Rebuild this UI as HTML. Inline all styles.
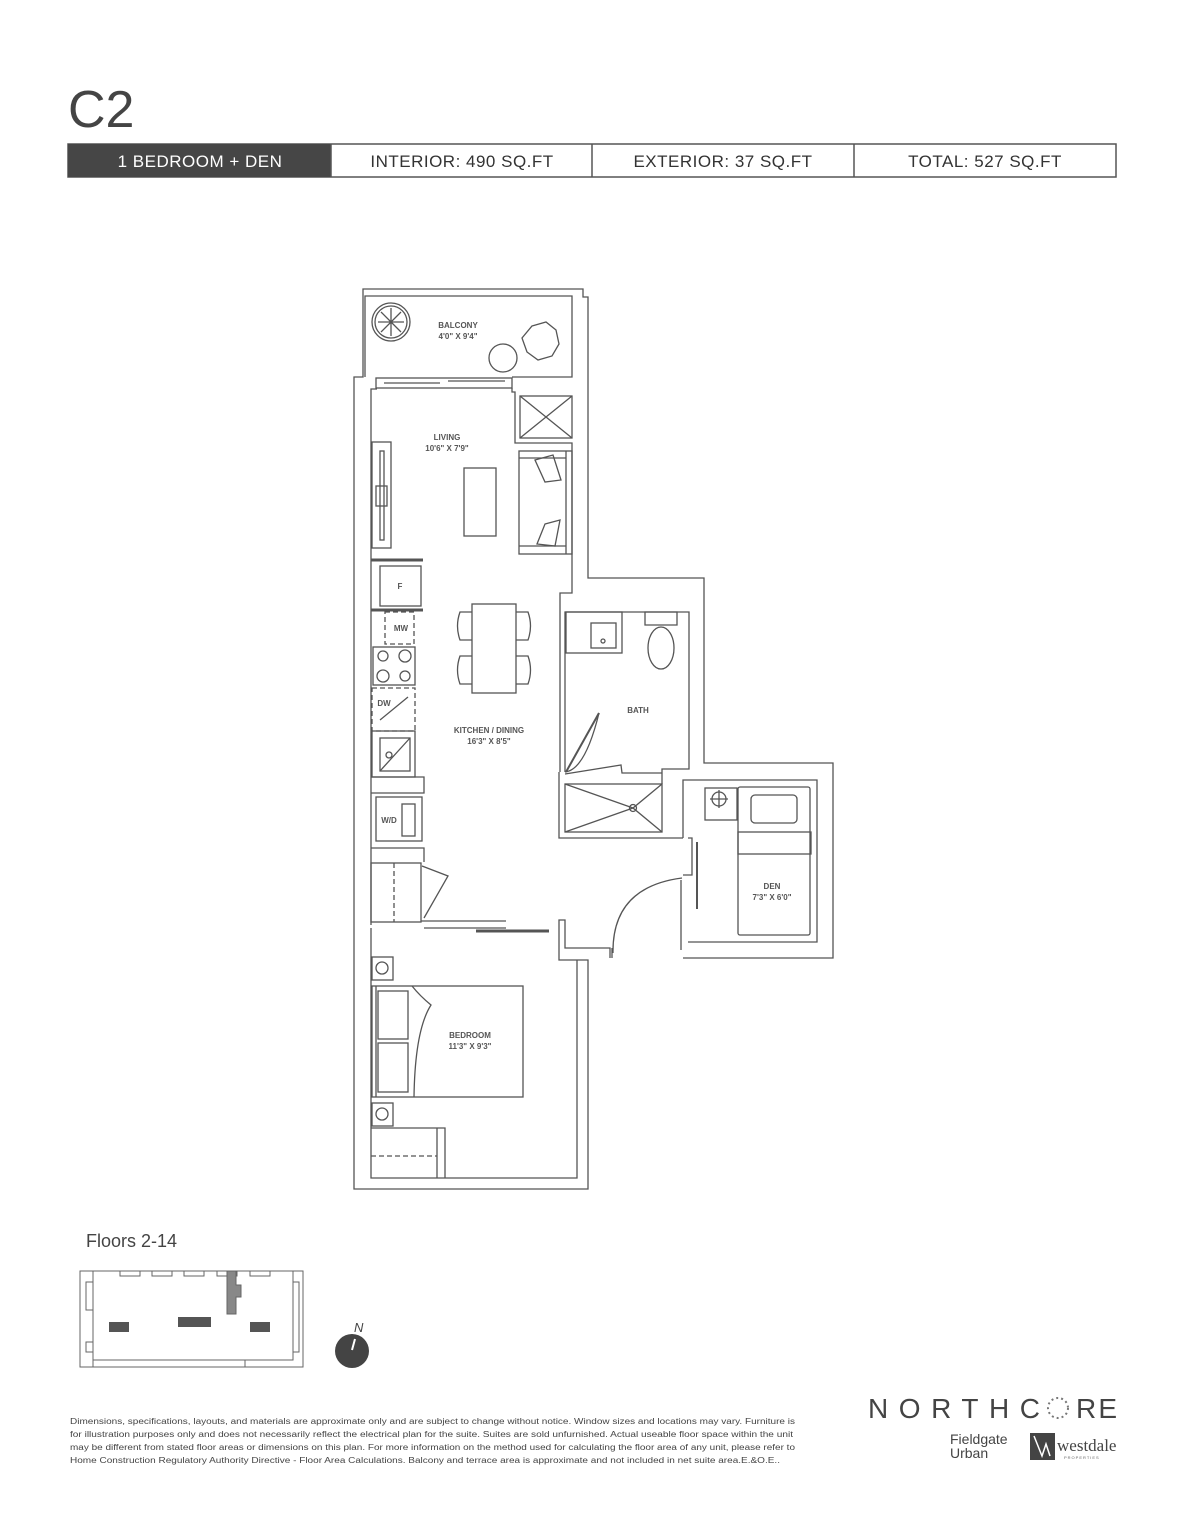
<!DOCTYPE html>
<html><head><meta charset="utf-8"><style>
body{margin:0;background:#fff;}
svg{display:block}
.t{font-family:"Liberation Sans",sans-serif;fill:#444}
.l{font-family:"Liberation Sans",sans-serif;font-size:8px;font-weight:bold;fill:#555;text-anchor:middle}
</style></head><body>
<svg width="1187" height="1536" viewBox="0 0 1187 1536" xmlns="http://www.w3.org/2000/svg">
<text x="68" y="127" class="t" font-size="52" fill="#333" style="font-weight:300">C2</text>
<rect x="68" y="144" width="1048" height="33" fill="#fff" stroke="#555" stroke-width="1.5"/>
<rect x="68" y="144" width="263" height="33" fill="#464646"/>
<line x1="331" y1="144" x2="331" y2="177" stroke="#555" stroke-width="1.5"/>
<line x1="592" y1="144" x2="592" y2="177" stroke="#555" stroke-width="1.5"/>
<line x1="854" y1="144" x2="854" y2="177" stroke="#555" stroke-width="1.5"/>
<g font-family="Liberation Sans, sans-serif" font-size="17" text-anchor="middle" letter-spacing="0.5">
<text x="200" y="167" fill="#fff">1 BEDROOM + DEN</text>
<text x="462" y="167" fill="#333">INTERIOR: 490 SQ.FT</text>
<text x="723" y="167" fill="#333">EXTERIOR: 37 SQ.FT</text>
<text x="985" y="167" fill="#333">TOTAL: 527 SQ.FT</text>
</g>

<g fill="none" stroke="#555" stroke-width="1.3">
<polyline points="363,297 363,377 354,377 354,1189 588,1189 588,960 559,960 559,920 565,920 565,948 610,948 610,958"/>
<polyline points="683,958 833,958 833,763 704,763 704,578 588,578 588,297 583,297 583,289 363,289 363,297"/>
<polyline points="365,377 365,296 572,296 572,377 512,377"/>
<rect x="376" y="378" width="136" height="10"/>
<line x1="384" y1="383" x2="440" y2="383"/><line x1="448" y1="381" x2="505" y2="381"/>
<polyline points="371,925 371,389 377,389"/>
<polyline points="512,388 512,392 515,392 515,443 572,443 572,593 560,593 560,772"/>
<rect x="520" y="396" width="52" height="42"/>
<line x1="520" y1="396" x2="572" y2="438"/><line x1="572" y1="396" x2="520" y2="438"/>
<rect x="372" y="442" width="19" height="106"/>
<rect x="380" y="451" width="4" height="89"/><rect x="376" y="486" width="11" height="20"/>
<rect x="464" y="468" width="32" height="68"/>
<rect x="519" y="451" width="53" height="103"/>
<line x1="519" y1="458" x2="566" y2="458"/><line x1="519" y1="546" x2="566" y2="546"/><line x1="566" y1="451" x2="566" y2="554"/>
<path d="M535,460 L553,455 L561,480 L545,482 Z"/><path d="M545,524 L560,520 L555,546 L537,544 Z"/>
<line x1="371" y1="560" x2="423" y2="560" stroke-width="3"/><line x1="371" y1="610" x2="423" y2="610" stroke-width="3"/>
<rect x="380" y="566" width="41" height="40"/>
<rect x="385" y="612" width="29" height="32" stroke-dasharray="5,3"/>
<rect x="373" y="647" width="42" height="38"/>
<circle cx="383" cy="656" r="5"/><circle cx="405" cy="656" r="6"/><circle cx="383" cy="676" r="6"/><circle cx="405" cy="676" r="5"/>
<rect x="372" y="688" width="43" height="43" stroke-dasharray="5,3"/>
<line x1="380" y1="720" x2="408" y2="697"/>
<rect x="372" y="731" width="43" height="46"/>
<rect x="380" y="738" width="30" height="33"/><line x1="380" y1="771" x2="410" y2="738"/><circle cx="389" cy="755" r="3"/>
<polyline points="371,777 424,777 424,793 371,793"/>
<rect x="376" y="797" width="46" height="44"/><rect x="402" y="804" width="13" height="32"/>
<polyline points="371,848 424,848 424,862"/>
<rect x="371" y="863" width="50" height="59"/><line x1="394" y1="863" x2="394" y2="922" stroke-dasharray="5,3"/>
<path d="M422,866 L448,876 L424,918"/>
<line x1="421" y1="921" x2="506" y2="921"/><line x1="424" y1="928" x2="506" y2="928"/>
<line x1="476" y1="931" x2="549" y2="931" stroke-width="3"/>
<rect x="472" y="604" width="44" height="89"/>
<path d="M472,612 L460,612 Q455,626 460,640 L472,640"/><path d="M472,656 L460,656 Q455,670 460,684 L472,684"/>
<path d="M516,612 L528,612 Q533,626 528,640 L516,640"/><path d="M516,656 L528,656 Q533,670 528,684 L516,684"/>
<polyline points="565,772 565,612 689,612 689,769 662,769 662,784"/>
<rect x="566" y="612" width="56" height="41"/><rect x="591" y="623" width="25" height="25"/><circle cx="603" cy="641" r="2"/>
<path d="M645,612 L677,612 L677,625 L645,625 Z"/><ellipse cx="661" cy="648" rx="13" ry="21"/>
<path d="M565,772 Q585,770 599,713"/><line x1="599" y1="713" x2="566" y2="772" stroke-width="2"/>
<polyline points="565,774 621,765 622,773 662,773"/>
<rect x="565" y="784" width="97" height="48"/>
<line x1="565" y1="784" x2="633" y2="808"/><line x1="565" y1="832" x2="633" y2="808"/><line x1="662" y1="784" x2="633" y2="808"/><line x1="662" y1="832" x2="633" y2="808"/>
<circle cx="633" cy="808" r="3.5"/>
<polyline points="559,772 559,838 683,838"/>
<polyline points="683,838 683,780 817,780 817,942 688,942"/>
<polyline points="688,838 692,838 692,875 683,875"/>
<line x1="697" y1="842" x2="697" y2="909" stroke-width="2"/>
<line x1="681" y1="880" x2="681" y2="950"/>
<path d="M613,953 Q612,887 682,878"/><line x1="612" y1="948" x2="612" y2="958"/>
<rect x="705" y="788" width="32" height="32"/><circle cx="719" cy="799" r="7"/><line x1="710" y1="799" x2="728" y2="799"/><line x1="719" y1="790" x2="719" y2="808"/>
<rect x="738" y="787" width="72" height="148" rx="2"/><rect x="751" y="795" width="46" height="28" rx="4"/>
<rect x="738" y="832" width="73" height="22"/>
<polyline points="371,928 371,1178 577,1178 577,960"/>
<rect x="372" y="957" width="21" height="23"/><circle cx="382" cy="968" r="6"/>
<rect x="372" y="1103" width="21" height="23"/><circle cx="382" cy="1114" r="6"/>
<rect x="372" y="986" width="151" height="111"/><line x1="376" y1="986" x2="376" y2="1097"/>
<rect x="378" y="991" width="30" height="48"/><rect x="378" y="1043" width="30" height="49"/>
<path d="M412,986 Q420,996 431,1005 Q415,1030 414,1097"/>
<polyline points="371,1128 445,1128 445,1178"/><line x1="437" y1="1128" x2="437" y2="1178"/>
<line x1="371" y1="1156" x2="437" y2="1156" stroke-dasharray="5,3"/>
<circle cx="391" cy="322" r="19"/><circle cx="391" cy="322" r="16"/>
<path d="M391,308 L391,336 M378,322 L404,322 M381,312 L401,332 M401,312 L381,332"/>
<circle cx="503" cy="358" r="14"/>
<polygon points="532,326 546,322 556,330 559,344 552,356 538,360 527,352 522,338"/>
</g>
<g class="l">
<text x="458" y="328" class="l">BALCONY</text><text x="458" y="339" class="l">4'0" X 9'4"</text>
<text x="447" y="440" class="l">LIVING</text><text x="447" y="451" class="l">10'6" X 7'9"</text>
<text x="489" y="733" class="l">KITCHEN / DINING</text><text x="489" y="744" class="l">16'3" X 8'5"</text>
<text x="638" y="713" class="l">BATH</text>
<text x="772" y="889" class="l">DEN</text><text x="772" y="900" class="l">7'3" X 6'0"</text>
<text x="470" y="1038" class="l">BEDROOM</text><text x="470" y="1049" class="l">11'3" X 9'3"</text>
<text x="400" y="589" class="l">F</text><text x="401" y="631" class="l">MW</text><text x="384" y="706" class="l">DW</text><text x="389" y="823" class="l">W/D</text>
</g>

<text x="86" y="1247" class="t" font-size="18">Floors 2-14</text>
<g fill="none" stroke="#666" stroke-width="1">
<rect x="80" y="1271" width="223" height="96"/>
<rect x="93" y="1271" width="200" height="89"/>
<rect x="86" y="1282" width="7" height="28"/><rect x="86" y="1342" width="7" height="10"/>
<rect x="120" y="1271" width="20" height="5"/><rect x="152" y="1271" width="20" height="5"/><rect x="184" y="1271" width="20" height="5"/><rect x="217" y="1271" width="20" height="5"/><rect x="250" y="1271" width="20" height="5"/>
<rect x="293" y="1282" width="6" height="70"/>
<rect x="93" y="1360" width="152" height="7"/>
</g>
<path d="M227,1271 L236,1271 L236,1285 L241,1285 L241,1297 L236,1297 L236,1314 L227,1314 Z" fill="#888" stroke="#666"/>
<rect x="109" y="1322" width="20" height="10" fill="#555"/>
<rect x="178" y="1317" width="33" height="10" fill="#555"/>
<rect x="250" y="1322" width="20" height="10" fill="#555"/>
<circle cx="352" cy="1351" r="17" fill="#444"/>
<line x1="352" y1="1350" x2="355" y2="1339" stroke="#fff" stroke-width="2"/>
<text x="354" y="1332" class="t" font-size="13" font-style="italic">N</text>

<g class="t" font-size="8" fill="#555">
<text x="70" y="1424" textLength="725" lengthAdjust="spacingAndGlyphs">Dimensions, specifications, layouts, and materials are approximate only and are subject to change without notice. Window sizes and locations may vary. Furniture is</text>
<text x="70" y="1437" textLength="723" lengthAdjust="spacingAndGlyphs">for illustration purposes only and does not necessarily reflect the electrical plan for the suite. Suites are sold unfurnished. Actual useable floor space within the unit</text>
<text x="70" y="1450" textLength="725" lengthAdjust="spacingAndGlyphs">may be different from stated floor areas or dimensions on this plan. For more information on the method used for calculating the floor area of any unit, please refer to</text>
<text x="70" y="1463" textLength="710" lengthAdjust="spacingAndGlyphs">Home Construction Regulatory Authority Directive - Floor Area Calculations. Balcony and terrace area is approximate and not included in net suite area.E.&amp;O.E..</text>
</g>
<text x="868" y="1418" class="t" font-size="28" textLength="172" lengthAdjust="spacing" fill="#555">NORTHC</text>
<circle cx="1058" cy="1408" r="10" fill="none" stroke="#777" stroke-width="2" stroke-dasharray="2,3"/>
<text x="1076" y="1418" class="t" font-size="28" textLength="41" lengthAdjust="spacing" fill="#555">RE</text>
<text x="950" y="1444" class="t" font-size="14" fill="#555">Fieldgate</text>
<text x="950" y="1458" class="t" font-size="14" fill="#555">Urban</text>
<path d="M1030,1433 L1055,1433 L1055,1460 L1030,1460 Z" fill="#444"/>
<path d="M1034,1436 L1042,1456 L1046,1444 L1050,1456" fill="none" stroke="#fff" stroke-width="1.5"/>
<text x="1057" y="1451" font-family="Liberation Serif, serif" font-size="17" fill="#444">westdale</text>
<text x="1064" y="1459" font-family="Liberation Sans, sans-serif" font-size="4" fill="#666" letter-spacing="1">PROPERTIES</text>
</svg>
</body></html>
